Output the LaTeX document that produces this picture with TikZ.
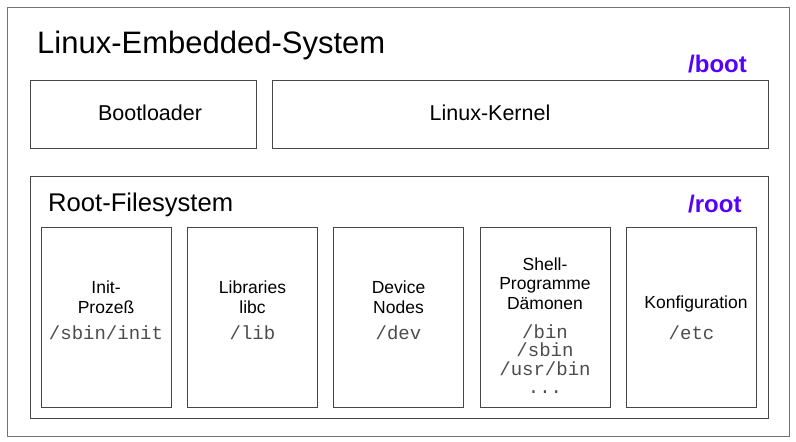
\documentclass[tikz,border=0pt]{standalone}
\usepackage{fontspec}
\setmainfont{Liberation Sans}
\setmonofont{Liberation Mono}
\definecolor{pathblue}{RGB}{85,0,250}
\definecolor{frame}{RGB}{70,70,70}
\begin{document}
\begin{tikzpicture}[x=1pt,y=-1pt,
  box/.style={draw=frame,line width=0.9pt,inner sep=0pt,outer sep=0pt},
  lbl/.style={anchor=base,inner sep=0pt,font=\fontsize{17.5}{20}\selectfont},
  mono/.style={anchor=base,inner sep=0pt,font=\fontsize{19}{20}\ttfamily,text=black!70},
  path/.style={anchor=base west,inner sep=0pt,text=pathblue,font=\fontsize{24}{28}\selectfont\bfseries}]
\useasboundingbox (0,0) rectangle (796,442);
% outer frame
\node[box,draw=black!55,minimum width=782,minimum height=429] (outer) at (398,221.5) {};
\node[anchor=base west,inner sep=0pt,font=\fontsize{31}{36}\selectfont] (title) at (37,53) {Linux-Embedded-System};
\node[path] (boot) at (688,72) {/boot};
% boot components
\node[box,minimum width=226,minimum height=68] (bootloader) at (143,114) {};
\node[anchor=base,inner sep=0pt,font=\fontsize{21.5}{24}\selectfont] (bltext) at (150,120) {Bootloader};
\node[box,minimum width=496,minimum height=68] (kernel) at (520,114) {};
\node[anchor=base,inner sep=0pt,font=\fontsize{21.5}{24}\selectfont] (ktext) at (490,120) {Linux-Kernel};
% root filesystem
\node[box,minimum width=738,minimum height=242] (rootfs) at (399,297) {};
\node[anchor=base west,inner sep=0pt,font=\fontsize{25.6}{30}\selectfont] (rftext) at (48,211) {Root-Filesystem};
\node[path] (root) at (688,212) {/root};
% columns
\node[box,minimum width=130,minimum height=180] (c1) at (106,317) {};
\node[box,minimum width=130,minimum height=180] (c2) at (252.5,317) {};
\node[box,minimum width=130,minimum height=180] (c3) at (398.5,317) {};
\node[box,minimum width=130,minimum height=180] (c4) at (545,317) {};
\node[box,minimum width=130,minimum height=180] (c5) at (691.5,317) {};
% column 1
\node[lbl] (c1a) at (106,293) {Init-};
\node[lbl] (c1b) at (106,313) {Prozeß};
\node[mono] (c1c) at (106,339) {/sbin/init};
% column 2
\node[lbl] (c2a) at (252.5,293) {Libraries};
\node[lbl] (c2b) at (252.5,313) {libc};
\node[mono] (c2c) at (252.5,339) {/lib};
% column 3
\node[lbl] (c3a) at (398.5,293) {Device};
\node[lbl] (c3b) at (398.5,313) {Nodes};
\node[mono] (c3c) at (398.5,339) {/dev};
% column 4
\node[lbl] (c4a) at (545,270) {Shell-};
\node[lbl] (c4b) at (545,289.5) {Programme};
\node[lbl] (c4c) at (545,309) {Dämonen};
\node[mono] (c4d) at (545,338) {/bin};
\node[mono] (c4e) at (545,356.5) {/sbin};
\node[mono] (c4f) at (545,375) {/usr/bin};
\node[mono] (c4g) at (545,393.5) {...};
% column 5
\node[lbl] (c5a) at (696,308) {Konfiguration};
\node[mono] (c5b) at (691.5,339) {/etc};
\end{tikzpicture}
\end{document}
